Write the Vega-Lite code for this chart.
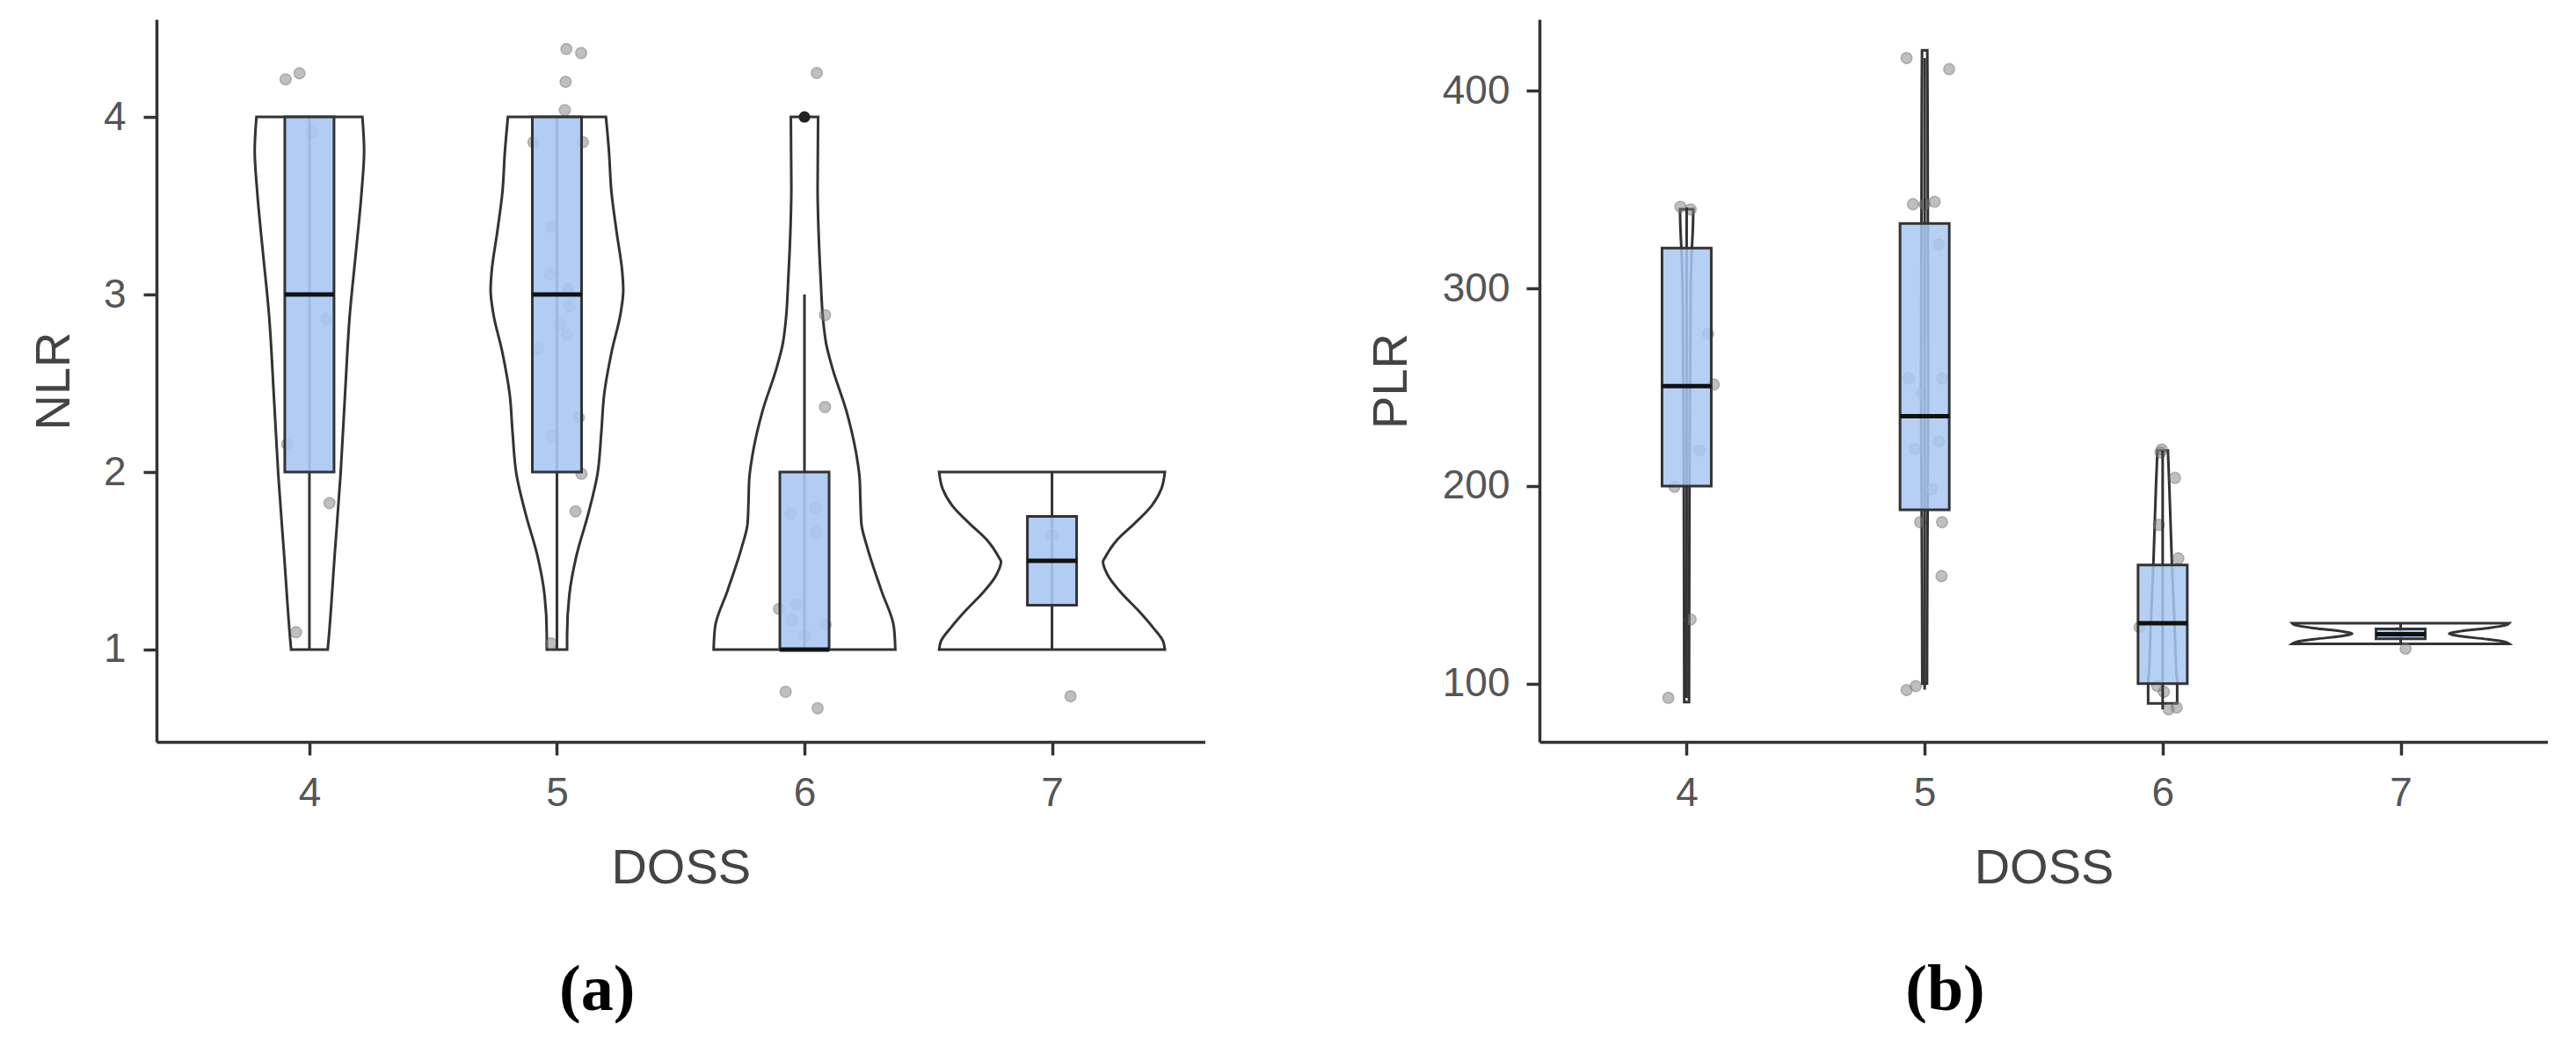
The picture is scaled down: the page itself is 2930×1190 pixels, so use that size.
{
  "$schema": "https://vega.github.io/schema/vega-lite/v6.json",
  "padding": {"left": 33, "top": 22, "right": 0, "bottom": 0},
  "bounds": "flush",
  "spacing": 380,
  "datasets": {
    "violinA": [
      {"doss": 4, "v": 4.0, "lo": 3.786, "hi": 4.214},
      {"doss": 4, "v": 3.81, "lo": 3.779, "hi": 4.221},
      {"doss": 4, "v": 3.58, "lo": 3.789, "hi": 4.211},
      {"doss": 4, "v": 3.24, "lo": 3.812, "hi": 4.188},
      {"doss": 4, "v": 2.90, "lo": 3.836, "hi": 4.164},
      {"doss": 4, "v": 2.44, "lo": 3.856, "hi": 4.144},
      {"doss": 4, "v": 1.99, "lo": 3.874, "hi": 4.126},
      {"doss": 4, "v": 1.53, "lo": 3.898, "hi": 4.102},
      {"doss": 4, "v": 1.08, "lo": 3.921, "hi": 4.079},
      {"doss": 4, "v": 1.0, "lo": 3.926, "hi": 4.074},
      {"doss": 5, "v": 4.0, "lo": 4.802, "hi": 5.198},
      {"doss": 5, "v": 3.81, "lo": 4.790, "hi": 5.210},
      {"doss": 5, "v": 3.58, "lo": 4.780, "hi": 5.220},
      {"doss": 5, "v": 3.353, "lo": 4.759, "hi": 5.241},
      {"doss": 5, "v": 3.126, "lo": 4.736, "hi": 5.264},
      {"doss": 5, "v": 3.024, "lo": 4.732, "hi": 5.268},
      {"doss": 5, "v": 2.90, "lo": 4.742, "hi": 5.258},
      {"doss": 5, "v": 2.671, "lo": 4.780, "hi": 5.220},
      {"doss": 5, "v": 2.44, "lo": 4.809, "hi": 5.191},
      {"doss": 5, "v": 2.217, "lo": 4.821, "hi": 5.179},
      {"doss": 5, "v": 1.99, "lo": 4.836, "hi": 5.164},
      {"doss": 5, "v": 1.762, "lo": 4.874, "hi": 5.126},
      {"doss": 5, "v": 1.53, "lo": 4.921, "hi": 5.079},
      {"doss": 5, "v": 1.307, "lo": 4.950, "hi": 5.050},
      {"doss": 5, "v": 1.08, "lo": 4.959, "hi": 5.041},
      {"doss": 5, "v": 1.0, "lo": 4.959, "hi": 5.041},
      {"doss": 6, "v": 4.0, "lo": 5.945, "hi": 6.055},
      {"doss": 6, "v": 3.603, "lo": 5.947, "hi": 6.053},
      {"doss": 6, "v": 3.351, "lo": 5.943, "hi": 6.057},
      {"doss": 6, "v": 3.099, "lo": 5.935, "hi": 6.065},
      {"doss": 6, "v": 2.846, "lo": 5.924, "hi": 6.076},
      {"doss": 6, "v": 2.720, "lo": 5.912, "hi": 6.088},
      {"doss": 6, "v": 2.594, "lo": 5.889, "hi": 6.111},
      {"doss": 6, "v": 2.341, "lo": 5.830, "hi": 6.170},
      {"doss": 6, "v": 2.088, "lo": 5.789, "hi": 6.211},
      {"doss": 6, "v": 1.962, "lo": 5.777, "hi": 6.223},
      {"doss": 6, "v": 1.836, "lo": 5.774, "hi": 6.226},
      {"doss": 6, "v": 1.709, "lo": 5.770, "hi": 6.230},
      {"doss": 6, "v": 1.583, "lo": 5.748, "hi": 6.252},
      {"doss": 6, "v": 1.331, "lo": 5.689, "hi": 6.311},
      {"doss": 6, "v": 1.129, "lo": 5.639, "hi": 6.361},
      {"doss": 6, "v": 1.0, "lo": 5.633, "hi": 6.367},
      {"doss": 7, "v": 2.0, "lo": 6.544, "hi": 7.456},
      {"doss": 7, "v": 1.906, "lo": 6.558, "hi": 7.442},
      {"doss": 7, "v": 1.809, "lo": 6.598, "hi": 7.402},
      {"doss": 7, "v": 1.711, "lo": 6.666, "hi": 7.334},
      {"doss": 7, "v": 1.613, "lo": 6.740, "hi": 7.260},
      {"doss": 7, "v": 1.515, "lo": 6.787, "hi": 7.213},
      {"doss": 7, "v": 1.496, "lo": 6.794, "hi": 7.206},
      {"doss": 7, "v": 1.417, "lo": 6.774, "hi": 7.226},
      {"doss": 7, "v": 1.319, "lo": 6.720, "hi": 7.280},
      {"doss": 7, "v": 1.221, "lo": 6.652, "hi": 7.348},
      {"doss": 7, "v": 1.124, "lo": 6.592, "hi": 7.408},
      {"doss": 7, "v": 1.046, "lo": 6.551, "hi": 7.449},
      {"doss": 7, "v": 1.0, "lo": 6.544, "hi": 7.456}
    ],
    "boxA": [
      {"doss": 4, "q1": 2, "median": 3, "q3": 4, "wlo": 1, "whi": 4},
      {"doss": 5, "q1": 2, "median": 3, "q3": 4, "wlo": 1, "whi": 4},
      {"doss": 6, "q1": 1, "median": 1, "q3": 2, "wlo": 1, "whi": 3},
      {"doss": 7, "q1": 1.25, "median": 1.5, "q3": 1.75, "wlo": 1, "whi": 2}
    ],
    "outA": [{"doss": 6, "v": 4}],
    "pointsA": [
      {"x": 3.904, "v": 4.212}, {"x": 3.960, "v": 4.246}, {"x": 4.009, "v": 3.914}, {"x": 4.068, "v": 2.862},
      {"x": 3.910, "v": 2.157}, {"x": 4.081, "v": 1.825}, {"x": 3.946, "v": 1.098},
      {"x": 5.038, "v": 4.383}, {"x": 5.098, "v": 4.360}, {"x": 5.035, "v": 4.198}, {"x": 5.032, "v": 4.039},
      {"x": 4.905, "v": 3.858}, {"x": 5.105, "v": 3.858}, {"x": 4.979, "v": 3.381}, {"x": 4.972, "v": 3.114},
      {"x": 5.045, "v": 3.03}, {"x": 5.052, "v": 2.933}, {"x": 5.011, "v": 2.830}, {"x": 5.040, "v": 2.774},
      {"x": 4.923, "v": 2.694}, {"x": 5.088, "v": 2.307}, {"x": 4.982, "v": 2.205}, {"x": 5.099, "v": 1.990},
      {"x": 5.075, "v": 1.778}, {"x": 4.976, "v": 1.035},
      {"x": 6.050, "v": 4.248}, {"x": 6.083, "v": 2.884}, {"x": 6.083, "v": 2.366}, {"x": 5.944, "v": 1.765},
      {"x": 6.044, "v": 1.798}, {"x": 6.046, "v": 1.659}, {"x": 5.968, "v": 1.254}, {"x": 5.897, "v": 1.229},
      {"x": 5.950, "v": 1.166}, {"x": 6.085, "v": 1.141}, {"x": 6.003, "v": 1.078}, {"x": 5.924, "v": 0.762},
      {"x": 6.053, "v": 0.669},
      {"x": 7.0, "v": 1.646}, {"x": 7.075, "v": 0.737}
    ],
    "violinB": [
      {"doss": 4, "v": 340.1, "lo": 3.972, "hi": 4.028},
      {"doss": 4, "v": 330, "lo": 3.974, "hi": 4.026},
      {"doss": 4, "v": 320, "lo": 3.978, "hi": 4.022},
      {"doss": 4, "v": 300, "lo": 3.983, "hi": 4.017},
      {"doss": 4, "v": 250, "lo": 3.986, "hi": 4.014},
      {"doss": 4, "v": 200, "lo": 3.988, "hi": 4.012},
      {"doss": 4, "v": 150, "lo": 3.989, "hi": 4.011},
      {"doss": 4, "v": 90.6, "lo": 3.990, "hi": 4.010},
      {"doss": 5, "v": 420.5, "lo": 4.989, "hi": 5.011},
      {"doss": 5, "v": 400, "lo": 4.988, "hi": 5.012},
      {"doss": 5, "v": 350, "lo": 4.987, "hi": 5.013},
      {"doss": 5, "v": 300, "lo": 4.986, "hi": 5.014},
      {"doss": 5, "v": 250, "lo": 4.985, "hi": 5.015},
      {"doss": 5, "v": 200, "lo": 4.987, "hi": 5.013},
      {"doss": 5, "v": 150, "lo": 4.989, "hi": 5.011},
      {"doss": 5, "v": 100, "lo": 4.990, "hi": 5.010},
      {"doss": 6, "v": 218, "lo": 5.978, "hi": 6.022},
      {"doss": 6, "v": 200, "lo": 5.972, "hi": 6.028},
      {"doss": 6, "v": 178.4, "lo": 5.966, "hi": 6.034},
      {"doss": 6, "v": 160.4, "lo": 5.961, "hi": 6.039},
      {"doss": 6, "v": 130, "lo": 5.950, "hi": 6.050},
      {"doss": 6, "v": 105, "lo": 5.942, "hi": 6.058},
      {"doss": 6, "v": 100, "lo": 5.939, "hi": 6.061},
      {"doss": 6, "v": 90, "lo": 5.939, "hi": 6.061},
      {"doss": 7, "v": 130.6, "lo": 6.544, "hi": 7.456},
      {"doss": 7, "v": 129.5, "lo": 6.56, "hi": 7.44},
      {"doss": 7, "v": 128, "lo": 6.64, "hi": 7.36},
      {"doss": 7, "v": 126.5, "lo": 6.75, "hi": 7.25},
      {"doss": 7, "v": 125.3, "lo": 6.796, "hi": 7.204},
      {"doss": 7, "v": 124, "lo": 6.75, "hi": 7.25},
      {"doss": 7, "v": 122.5, "lo": 6.64, "hi": 7.36},
      {"doss": 7, "v": 121, "lo": 6.56, "hi": 7.44},
      {"doss": 7, "v": 120.1, "lo": 6.544, "hi": 7.456}
    ],
    "boxB": [
      {"doss": 4, "q1": 200, "median": 250.6, "q3": 320.4, "wlo": 92.8, "whi": 341},
      {"doss": 5, "q1": 188, "median": 235.3, "q3": 332.9, "wlo": 97, "whi": 416.6},
      {"doss": 6, "q1": 100, "median": 130.6, "q3": 160, "wlo": 87, "whi": 218},
      {"doss": 7, "q1": 122.7, "median": 125, "q3": 127.7, "wlo": 120.1, "whi": 130.6}
    ],
    "pointsB": [
      {"x": 3.974, "v": 341.3}, {"x": 4.017, "v": 340.0}, {"x": 4.090, "v": 277.0}, {"x": 4.114, "v": 251.4},
      {"x": 4.053, "v": 218.0}, {"x": 3.949, "v": 199.6}, {"x": 4.017, "v": 132.4}, {"x": 3.923, "v": 92.8},
      {"x": 4.924, "v": 416.6}, {"x": 5.103, "v": 411.0}, {"x": 4.951, "v": 342.6}, {"x": 5.000, "v": 342.6},
      {"x": 5.042, "v": 343.9}, {"x": 5.060, "v": 322.2}, {"x": 4.932, "v": 254.5}, {"x": 5.073, "v": 254.5},
      {"x": 4.987, "v": 246.8}, {"x": 4.957, "v": 218.7}, {"x": 5.060, "v": 222.5}, {"x": 5.030, "v": 198.3},
      {"x": 4.981, "v": 181.7}, {"x": 5.073, "v": 181.7}, {"x": 5.071, "v": 154.4}, {"x": 4.924, "v": 96.7},
      {"x": 4.963, "v": 98.7},
      {"x": 5.991, "v": 217.0}, {"x": 5.996, "v": 218.5}, {"x": 6.052, "v": 204.1}, {"x": 5.984, "v": 180.3},
      {"x": 6.066, "v": 163.4}, {"x": 5.903, "v": 128.6}, {"x": 6.005, "v": 95.9}, {"x": 6.025, "v": 87.0},
      {"x": 6.059, "v": 87.9}, {"x": 5.977, "v": 98.8},
      {"x": 7.021, "v": 117.7}, {"x": 6.99, "v": 125.6}
    ]
  },
  "hconcat": [
    {
      "width": 1192.5,
      "height": 822,
      "title": {"text": "(a)", "orient": "bottom", "anchor": "middle", "frame": "group", "font": "Liberation Serif", "fontWeight": "bold", "fontSize": 74, "color": "#000000", "dx": -95, "baseline": "alphabetic", "offset": 134},
      "layer": [
        {
          "data": {"name": "violinA"},
          "mark": {"type": "area", "orient": "horizontal", "interpolate": "monotone", "fill": "white", "stroke": "#333333", "strokeWidth": 3},
          "encoding": {
            "y": {"field": "v", "type": "quantitative", "title": "NLR",
                  "scale": {"domain": [0.48, 4.55], "nice": false, "zero": false},
                  "axis": {"values": [1, 2, 3, 4], "format": "d", "titleX": -99.5, "titleBaseline": "alphabetic", "titleAngle": 270, "labelPadding": 20}},
            "x": {"field": "lo", "type": "quantitative", "title": "DOSS",
                  "scale": {"domain": [3.4, 7.6], "nice": false, "zero": false},
                  "axis": {"values": [4, 5, 6, 7], "format": "d", "labelPadding": 21, "titleY": 160, "titleBaseline": "alphabetic", "labelFlush": false}},
            "x2": {"field": "hi"},
            "detail": {"field": "doss"}
          }
        },
        {
          "data": {"name": "pointsA"},
          "mark": {"type": "circle", "size": 160, "fill": "#7f7f7f", "fillOpacity": 0.5, "stroke": "#666666", "strokeOpacity": 0.4, "strokeWidth": 1.5},
          "encoding": {
            "x": {"field": "x", "type": "quantitative", "title": "DOSS"},
            "y": {"field": "v", "type": "quantitative", "title": "NLR"}
          }
        },
        {
          "data": {"name": "boxA"},
          "mark": {"type": "rule", "color": "#333333", "strokeWidth": 3},
          "encoding": {
            "x": {"field": "doss", "type": "quantitative", "title": "DOSS"},
            "y": {"field": "wlo", "type": "quantitative", "title": "NLR"},
            "y2": {"field": "whi"}
          }
        },
        {
          "data": {"name": "boxA"},
          "mark": {"type": "bar", "orient": "vertical", "size": 56, "fill": "#a9c8f2", "fillOpacity": 0.9, "stroke": "#333333", "strokeWidth": 3},
          "encoding": {
            "x": {"field": "doss", "type": "quantitative", "title": "DOSS"},
            "y": {"field": "q1", "type": "quantitative", "title": "NLR"},
            "y2": {"field": "q3"}
          }
        },
        {
          "data": {"name": "boxA"},
          "mark": {"type": "tick", "orient": "horizontal", "size": 56, "thickness": 5, "color": "#111111", "opacity": 1},
          "encoding": {
            "x": {"field": "doss", "type": "quantitative", "title": "DOSS"},
            "y": {"field": "median", "type": "quantitative", "title": "NLR"}
          }
        },
        {
          "data": {"name": "outA"},
          "mark": {"type": "circle", "size": 170, "color": "#222222", "opacity": 1},
          "encoding": {
            "x": {"field": "doss", "type": "quantitative", "title": "DOSS"},
            "y": {"field": "v", "type": "quantitative", "title": "NLR"}
          }
        }
      ]
    },
    {
      "width": 1147,
      "height": 822,
      "title": {"text": "(b)", "orient": "bottom", "anchor": "middle", "frame": "group", "font": "Liberation Serif", "fontWeight": "bold", "fontSize": 74, "color": "#000000", "dx": -112, "baseline": "alphabetic", "offset": 134},
      "layer": [
        {
          "data": {"name": "violinB"},
          "mark": {"type": "area", "orient": "horizontal", "interpolate": "monotone", "fill": "white", "stroke": "#333333", "strokeWidth": 3},
          "encoding": {
            "y": {"field": "v", "type": "quantitative", "title": "PLR",
                  "scale": {"domain": [70.5, 436.2], "nice": false, "zero": false},
                  "axis": {"values": [100, 200, 300, 400], "format": "d", "titleX": -152, "titleBaseline": "alphabetic", "titleAngle": 270, "labelPadding": 19}},
            "x": {"field": "lo", "type": "quantitative", "title": "DOSS",
                  "scale": {"domain": [3.4, 7.6], "nice": false, "zero": false},
                  "axis": {"values": [4, 5, 6, 7], "format": "d", "labelPadding": 21, "titleY": 160, "titleBaseline": "alphabetic", "labelFlush": false}},
            "x2": {"field": "hi"},
            "detail": {"field": "doss"}
          }
        },
        {
          "data": {"name": "pointsB"},
          "mark": {"type": "circle", "size": 160, "fill": "#7f7f7f", "fillOpacity": 0.5, "stroke": "#666666", "strokeOpacity": 0.4, "strokeWidth": 1.5},
          "encoding": {
            "x": {"field": "x", "type": "quantitative", "title": "DOSS"},
            "y": {"field": "v", "type": "quantitative", "title": "PLR"}
          }
        },
        {
          "data": {"name": "boxB"},
          "mark": {"type": "rule", "color": "#333333", "strokeWidth": 3},
          "encoding": {
            "x": {"field": "doss", "type": "quantitative", "title": "DOSS"},
            "y": {"field": "wlo", "type": "quantitative", "title": "PLR"},
            "y2": {"field": "whi"}
          }
        },
        {
          "data": {"name": "boxB"},
          "mark": {"type": "bar", "orient": "vertical", "size": 56, "fill": "#a9c8f2", "fillOpacity": 0.85, "stroke": "#333333", "strokeWidth": 3},
          "encoding": {
            "x": {"field": "doss", "type": "quantitative", "title": "DOSS"},
            "y": {"field": "q1", "type": "quantitative", "title": "PLR"},
            "y2": {"field": "q3"}
          }
        },
        {
          "data": {"name": "boxB"},
          "mark": {"type": "tick", "orient": "horizontal", "size": 56, "thickness": 5, "color": "#111111", "opacity": 1},
          "encoding": {
            "x": {"field": "doss", "type": "quantitative", "title": "DOSS"},
            "y": {"field": "median", "type": "quantitative", "title": "PLR"}
          }
        }
      ]
    }
  ],
  "config": {
    "view": {"stroke": null},
    "axis": {
      "grid": false,
      "domainColor": "#333333",
      "domainWidth": 3.5,
      "tickColor": "#333333",
      "tickWidth": 3.5,
      "tickSize": 15,
      "labelFont": "Liberation Sans",
      "labelFontSize": 46,
      "labelColor": "#555555",
      "titleFont": "Liberation Sans",
      "titleFontSize": 56,
      "titleFontWeight": "normal",
      "titleColor": "#444444"
    }
  }
}
